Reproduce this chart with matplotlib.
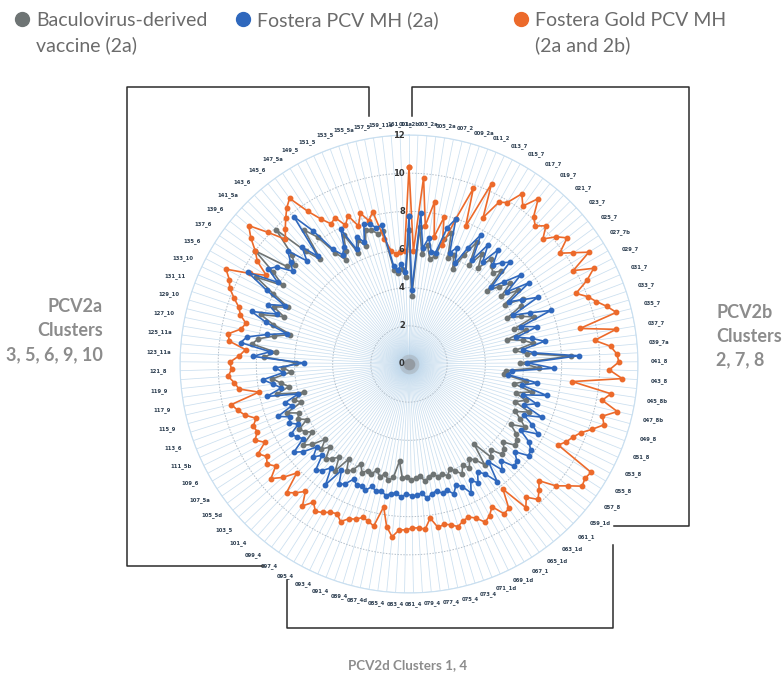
import numpy as np
import matplotlib
matplotlib.use('Agg')
import matplotlib.pyplot as plt
from matplotlib.lines import Line2D

# ---------------- data ----------------
isolate_labels = [
    "001_2b", "003_2a", "005_2a", "007_2", "009_2a", "011_2", "013_7", "015_7", "017_7", "019_7",
    "021_7", "023_7", "025_7", "027_7b", "029_7", "031_7", "033_7", "035_7", "037_7", "039_7a",
    "041_8", "043_8", "045_8b", "047_8b", "049_8", "051_8", "053_8", "055_8", "057_8", "059_1d",
    "061_1", "063_1d", "065_1d", "067_1", "069_1d", "071_1d", "073_4", "075_4", "077_4", "079_4",
    "081_4", "083_4", "085_4", "087_4d", "089_4", "091_4", "093_4", "095_4", "097_4", "099_4",
    "101_4", "103_5", "105_5d", "107_5a", "109_6", "111_5b", "113_6", "115_9", "117_9", "119_9",
    "121_8", "123_11a", "125_11a", "127_10", "129_10", "131_11", "133_10", "135_6", "137_6", "139_6",
    "141_5a", "143_6", "145_6", "147_5a", "149_5", "151_5", "153_5", "155_5a", "157_5", "159_11a",
    "161_11a",
]

gold = [
    10.3, 5.9, 9.8, 7.3, 8.6, 6.8, 7.9, 6.5, 8.0, 9.8,
    7.8, 10.4, 8.6, 9.7, 9.9, 10.7, 10.2, 11.0, 10.1, 9.8,
    10.2, 9.6, 10.2, 10.6, 9.8, 10.4, 11.1, 9.9, 10.9, 10.3,
    9.5, 10.0, 10.35, 10.8, 11.2, 9.15, 11.0, 9.8, 10.6, 10.9,
    11.0, 10.5, 11.2, 8.6, 10.7, 10.3, 11.2, 10.5, 10.7, 10.2,
    9.7, 9.4, 9.2, 8.9, 11.1, 11.0, 11.1, 10.5, 10.0, 9.15,
    9.5, 9.8, 9.3, 9.7, 8.2, 9.2, 9.3, 8.65, 9.0, 9.2,
    8.8, 8.6, 8.7, 8.9, 8.7, 8.6, 8.7, 8.15, 8.7, 8.6,
    8.6, 8.7, 8.7, 9.1, 8.6, 7.6, 8.7, 8.5, 8.4, 8.6,
    8.7, 9.0, 8.7, 8.8, 9.0, 9.15, 8.8, 9.3, 8.6, 9.0,
    9.3, 8.2, 8.9, 9.4, 8.8, 9.1, 8.9, 9.2, 8.6, 9.0,
    8.7, 8.8, 8.5, 9.0, 9.3, 9.55, 8.0, 9.0, 9.2, 9.5,
    9.3, 9.4, 8.9, 8.6, 9.5, 9.6, 9.0, 8.8, 9.2, 9.4,
    9.8, 10.2, 10.4, 10.8, 9.6, 8.8, 9.6, 10.0, 10.6, 11.1,
    10.1, 9.2, 9.6, 10.0, 10.4, 10.7, 9.6, 8.9, 8.4, 8.6,
    8.0, 8.4, 7.7, 8.3, 7.8, 8.2, 6.7, 6.0, 5.8, 5.9, 5.9,
]

fostera = [
    7.75, 3.9, 7.95, 6.1, 6.7, 6.0, 6.0, 7.4, 8.0, 6.2,
    6.6, 5.8, 6.8, 7.75, 6.4, 7.5, 6.6, 7.6, 6.8, 7.2,
    7.5, 5.9, 6.6, 7.5, 6.4, 7.6, 6.2, 6.8, 7.6, 6.0,
    6.9, 7.95, 6.2, 7.0, 5.8, 6.6, 7.2, 6.0, 6.6, 8.9,
    6.2, 7.6, 5.4, 5.2, 6.8, 6.0, 7.4, 6.2, 7.0, 6.4,
    7.5, 6.6, 7.2, 7.7, 6.8, 7.5, 7.8, 7.9, 7.2, 7.6,
    7.7, 7.0, 7.4, 6.6, 7.7, 7.0, 6.7, 7.2, 6.9, 7.5,
    7.0, 6.8, 7.2, 6.9, 7.0, 6.8, 6.9, 7.1, 6.8, 6.9,
    6.9, 6.8, 7.0, 6.8, 6.85, 7.0, 6.8, 6.9, 6.7, 7.0,
    6.85, 6.9, 6.7, 7.1, 7.3, 6.6, 7.7, 6.8, 7.2, 7.4,
    6.6, 7.0, 6.5, 7.2, 7.6, 6.8, 7.0, 7.2, 6.6, 7.0,
    6.8, 7.4, 6.5, 6.8, 6.0, 7.65, 6.8, 7.2, 7.7, 6.6,
    7.0, 5.5, 8.2, 7.3, 8.9, 8.6, 7.6, 6.6, 7.8, 8.7,
    7.4, 8.0, 7.2, 8.4, 9.7, 8.1, 8.9, 8.6, 7.8, 8.2,
    8.7, 7.6, 8.3, 7.4, 9.8, 8.6, 7.2, 6.7, 7.0, 7.9,
    6.6, 7.2, 6.8, 7.7, 7.6, 7.35, 7.4, 5.2, 4.95, 5.25, 4.8,
]

baculo = [
    7.0, 3.56, 7.2, 5.8, 6.3, 5.6, 5.8, 6.8, 7.2, 5.9,
    6.2, 5.5, 6.4, 7.3, 6.1, 6.9, 6.2, 7.0, 6.7, 6.5,
    6.85, 5.6, 6.2, 6.8, 6.0, 6.9, 5.9, 6.9, 6.6, 5.7,
    6.4, 7.0, 5.8, 6.4, 5.3, 6.1, 6.6, 5.6, 6.2, 8.5,
    5.8, 6.8, 5.1, 5.0, 6.2, 5.6, 6.6, 5.8, 6.4, 5.9,
    6.8, 6.1, 6.5, 6.9, 6.2, 6.7, 6.9, 7.0, 6.4, 6.7,
    6.8, 6.2, 6.5, 5.4, 6.6, 6.1, 5.9, 6.3, 6.0, 6.4,
    6.1, 5.9, 6.2, 6.0, 6.1, 5.9, 6.0, 6.2, 5.9, 6.0,
    6.1, 5.9, 6.0, 5.1, 6.0, 6.2, 5.9, 6.1, 5.8, 6.1,
    6.0, 6.2, 5.8, 6.3, 6.5, 5.9, 6.8, 6.1, 6.4, 6.6,
    6.0, 6.4, 5.9, 6.6, 7.0, 6.2, 6.5, 6.7, 6.1, 6.5,
    6.3, 6.9, 6.0, 6.3, 5.7, 7.1, 6.4, 6.8, 7.2, 6.2,
    6.6, 5.9, 7.6, 7.0, 8.3, 8.0, 7.2, 6.4, 7.4, 8.2,
    7.0, 7.7, 7.0, 8.0, 9.2, 7.8, 8.6, 10.0, 8.2, 7.9,
    8.4, 9.9, 8.0, 7.2, 8.9, 8.2, 7.0, 6.4, 6.8, 7.6,
    6.4, 7.0, 6.6, 7.4, 7.3, 7.0, 7.1, 5.0, 4.8, 5.0, 4.58,
]

radial_ticks = [0, 2, 4, 6, 8, 10, 12]

series_names = ["Baculovirus-derived\nvaccine (2a)", "Fostera PCV MH (2a)",
                "Fostera Gold PCV MH\n(2a and 2b)"]
series_colors = ["#6e7474", "#2f68bd", "#ec6a2b"]

# ---------------- figure ----------------
W, H = 784, 675
fig = plt.figure(figsize=(W / 100, H / 100), dpi=100)

cx, cy, R = 409, 364, 229
ax = fig.add_axes([(cx - R) / W, 1 - (cy + R) / H, 2 * R / W, 2 * R / H], projection='polar')
ax.set_theta_zero_location('N')
ax.set_theta_direction(-1)
ax.set_ylim(0, 12)
ax.set_xticks([])
ax.set_yticks([])
ax.grid(False)
ax.spines['polar'].set_color('#c9dff0')
ax.spines['polar'].set_linewidth(0.8)

N = len(gold)
theta = np.arange(N) * 2 * np.pi / N

# spokes
for t in theta:
    ax.plot([t, t], [0, 12], color='#b9d4ea', lw=0.55, alpha=0.75, zorder=1)
# rings
circ = np.linspace(0, 2 * np.pi, 400)
for r in radial_ticks[1:-1]:
    ax.plot(circ, np.full_like(circ, r), color='#b3bfca', lw=0.7, ls=(0, (1.5, 1.5)), zorder=1)
ax.plot(circ, np.full_like(circ, 12), color='#c9dff0', lw=0.8, zorder=1)

# central haze
ax.scatter([0], [0], s=200, color='#9a9a9a', alpha=0.35, zorder=1.5, lw=0)
ax.scatter([0], [0], s=70, color='#7f7f7f', alpha=0.55, zorder=1.5, lw=0)

# radial labels
for v in radial_ticks:
    ax.annotate(str(v), xy=(0, v), xytext=(-3, 0), textcoords='offset points',
                ha='right', va='center', fontsize=6, fontweight='bold', color='#333333', zorder=5)

# category labels (every other isolate labelled)
for k, lab in enumerate(isolate_labels):
    t = theta[2 * k]
    rr = 12.55 + 0.6 * abs(np.sin(t))
    ax.text(t, rr, lab, fontsize=3.8, ha='center', va='center', color='#2d3e50',
            fontweight='bold', clip_on=False)

# series
tc = np.append(theta, theta[0])
for vals, col, z in [(baculo, series_colors[0], 3), (fostera, series_colors[1], 3.5),
                     (gold, series_colors[2], 3.2)]:
    vc = np.append(vals, vals[0])
    ax.plot(tc, vc, color=col, lw=1.2, marker='o', ms=3.2, mec=col, mfc=col, zorder=z)

# ---------------- brackets ----------------
def bracket(xs, ys):
    fig.add_artist(Line2D(np.array(xs) / W, 1 - np.array(ys) / H, transform=fig.transFigure,
                          color='#2b2b2b', lw=1.1))

bracket([369, 369, 127, 127, 263], [116, 87, 87, 566, 566])
bracket([412, 412, 689, 689, 614], [116, 87, 87, 526, 526])
bracket([613, 613, 287, 287], [545, 628, 628, 580])

# ---------------- texts ----------------
font = 'Lato'
txtcol = '#6b6b6b'
grp = '#8c8c8c'
for i, line in enumerate(["PCV2a", "Clusters", "3, 5, 6, 9, 10"]):
    fig.text(103 / W, 1 - (307 + 24 * i) / H, line, ha='right', va='center',
             fontsize=13, fontweight='bold', color=grp, family=font)
for i, line in enumerate(["PCV2b", "Clusters", "2, 7, 8"]):
    fig.text(716 / W, 1 - (312 + 24 * i) / H, line, ha='left', va='center',
             fontsize=13, fontweight='bold', color=grp, family=font)
fig.text(408 / W, 1 - 665 / H, "PCV2d Clusters 1, 4", ha='center', va='center',
         fontsize=9.6, fontweight='bold', color=grp, family=font)

# legend
leg_x = [22, 243, 521]
for x, name, col in zip(leg_x, series_names, series_colors):
    fig.add_artist(Line2D([x / W], [1 - 19 / H], marker='o', ms=10, color=col, mec=col,
                          transform=fig.transFigure, ls='none'))
    for j, line in enumerate(name.split("\n")):
        fig.text((x + 14) / W, 1 - (20 + 25 * j) / H, line, ha='left', va='center',
                 fontsize=14, color=txtcol, family=font)

fig.savefig('out.png', dpi=100)
